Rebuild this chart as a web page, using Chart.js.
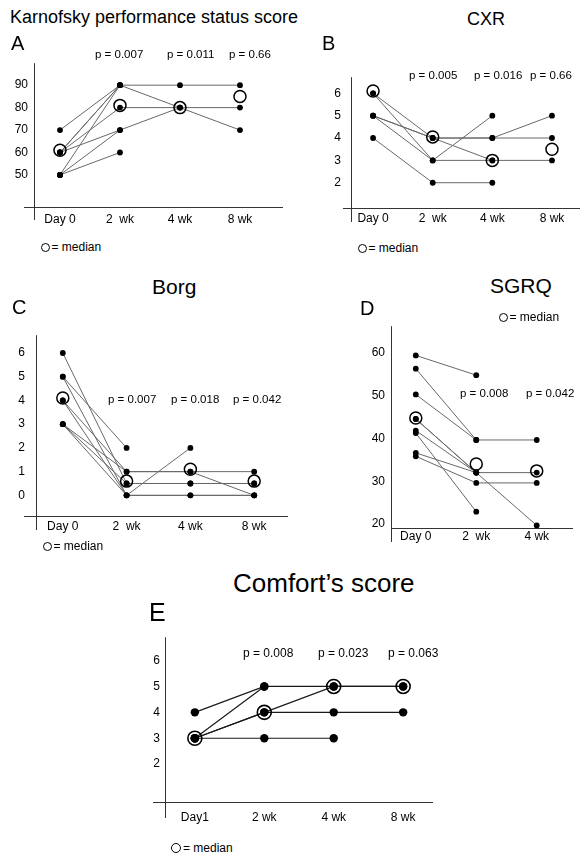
<!DOCTYPE html>
<html>
<head>
<meta charset="utf-8">
<script src="https://cdn.jsdelivr.net/npm/chart.js@4.4.0/dist/chart.umd.min.js"></script>
<style>
  body { margin: 0; background: #fff; width: 582px; height: 857px; position: relative; overflow: hidden;
         font-family: "Liberation Sans", Arial, sans-serif; color: #000; }
  .box { position: absolute; }
  .t { position: absolute; white-space: nowrap; line-height: 1; }
  .ring { position: absolute; border: 1.5px solid #000; border-radius: 50%; box-sizing: border-box; }
</style>
</head>
<body>
<script>
// categories
var weeks = ['Day 0', '2  wk', '4 wk', '8 wk'];
var weeksD = ['Day 0', '2  wk', '4 wk'];
var weeksE = ['Day1', '2 wk', '4 wk', '8 wk'];

// A - Karnofsky (one row per patient, null = not measured)
var kpsTicks = [50, 60, 70, 80, 90];
var kpsPatients = [
  [70, 90, 90, 90],
  [60, 90, 80, 70],
  [60, 80, 80, 80],
  [60, 70, 80, null],
  [60, 90, null, null],
  [50, 90, null, null],
  [50, 70, null, null],
  [50, 60, null, null]
];
var kpsMedian = [61, 81, 80, 85];
var kpsP = ['p = 0.007', 'p = 0.011', 'p = 0.66'];

// B - CXR
var cxrTicks = [2, 3, 4, 5, 6];
var cxrPatients = [
  [6, 4, 4, 4],
  [6, 3, 5, null],
  [5, 4, 3, 3],
  [5, 3, 3, null],
  [5, 4, 4, 5],
  [4, 2, 2, null]
];
var cxrMedian = [6.1, 4.05, 3.0, 3.5];
var cxrP = ['p = 0.005', 'p = 0.016', 'p = 0.66'];

// C - Borg
var borgTicks = [0, 1, 2, 3, 4, 5, 6];
var borgPatients = [
  [6, 0.5, 0.5, 0.5],
  [5, 2, null, null],
  [5, 0, 0, 0],
  [4, 1, 1, 1],
  [4, 0, 2, null],
  [3, 1, 1, 0],
  [3, 0.5, 0.5, 0.5],
  [3, 0, 0, 0]
];
var borgMedian = [4.1, 0.6, 1.1, 0.6];
var borgP = ['p = 0.007', 'p = 0.018', 'p = 0.042'];

// D - SGRQ
var sgrqTicks = [20, 30, 40, 50, 60];
var sgrqPatients = [
  [59.3, 54.7, null],
  [56.2, 39.6, 39.6],
  [50.2, 39.6, null],
  [44.5, 32, 19.7],
  [44.5, 32, 32],
  [41.8, 32, null],
  [41.2, 22.9, null],
  [36.6, 32, null],
  [35.8, 29.6, 29.6]
];
var sgrqMedian = [44.7, 34, 32.4];
var sgrqP = ['p = 0.008', 'p = 0.042'];

// E - Comfort
var comfortTicks = [2, 3, 4, 5, 6];
var comfortPatients = [
  [4, 5, 5, 5],
  [3, 5, null, null],
  [3, 4, 5, 5],
  [3, 4, 4, 4],
  [3, 3, 3, null]
];
var comfortMedian = [3, 4, 5, 5];
var comfortP = ['p = 0.008', 'p = 0.023', 'p = 0.063'];

var FONT = '"Liberation Sans", Arial, sans-serif';

// axis lines that cross each other like in the original figure
var crossAxes = {
  id: 'crossAxes',
  beforeDatasetsDraw: function (chart, args, opts) {
    var a = chart.chartArea;
    var ctx = chart.ctx;
    ctx.save();
    ctx.strokeStyle = '#333';
    ctx.lineWidth = 1;
    ctx.beginPath();
    ctx.moveTo(a.left + 0.5, a.top);
    ctx.lineTo(a.left + 0.5, a.bottom + opts.below);
    ctx.moveTo(a.left - opts.before, a.bottom + 0.5);
    ctx.lineTo(a.right, a.bottom + 0.5);
    ctx.stroke();
    ctx.restore();
  }
};

function toPoints(row) {
  return row.map(function (v, i) { return { x: i, y: v }; });
}

function drawPanel(p) {
  var yw = 40, xh = 26;
  var w = p.right - p.axisX + yw;
  var h = p.axisY - p.top + xh;
  var box = document.createElement('div');
  box.className = 'box';
  box.style.left = (p.axisX - yw) + 'px';
  box.style.top = p.top + 'px';
  var cv = document.createElement('canvas');
  cv.width = w;
  cv.height = h;
  box.appendChild(cv);
  document.body.appendChild(box);

  var lineSets = p.patients.map(function (row) {
    return { data: toPoints(row), showLine: true, borderColor: p.lineColor, borderWidth: p.lineWidth,
             pointRadius: 0, spanGaps: false, order: 2, clip: false };
  });
  var dotSets = p.patients.map(function (row) {
    return { data: toPoints(row), showLine: false, pointRadius: p.dot, pointBackgroundColor: '#000',
             pointBorderWidth: 0, order: 1, clip: false };
  });
  var medianSet = { data: toPoints(p.median), showLine: false, pointRadius: p.ring,
                    pointBackgroundColor: 'rgba(0,0,0,0)', pointBorderColor: '#000',
                    pointBorderWidth: p.ringWidth, order: 0, clip: false };

  new Chart(cv, {
    type: 'scatter',
    data: { datasets: lineSets.concat(dotSets, [medianSet]) },
    options: {
      responsive: false,
      animation: false,
      events: [],
      layout: { padding: 0, autoPadding: false },
      plugins: { legend: { display: false }, tooltip: { enabled: false },
                 crossAxes: { below: p.below, before: p.before } },
      scales: {
        x: {
          type: 'linear', min: p.xMin, max: p.xMax,
          afterBuildTicks: function (s) { s.ticks = p.labels.map(function (l, i) { return { value: i }; }); },
          afterFit: function (s) { s.height = xh; },
          ticks: { callback: function (v) { return p.labels[v]; }, color: '#000',
                   font: { family: FONT, size: 12 }, padding: p.xPad, maxRotation: 0, autoSkip: false },
          grid: { display: false, drawTicks: false },
          border: { display: false }
        },
        y: {
          type: 'linear', min: p.yMin, max: p.yMax,
          afterBuildTicks: function (s) { s.ticks = p.yTicks.map(function (v) { return { value: v }; }); },
          afterFit: function (s) { s.width = yw; },
          ticks: { color: '#000', font: { family: FONT, size: 12 }, padding: p.yPad },
          grid: { display: false, drawTicks: false },
          border: { display: false }
        }
      }
    },
    plugins: [crossAxes]
  });
}

var grey = '#686868';

drawPanel({ labels: weeks, yTicks: kpsTicks, patients: kpsPatients, median: kpsMedian,
  axisX: 34, top: 50, axisY: 207, right: 283, xMin: -0.433, xMax: 3.717, yMin: 35.7, yMax: 99.8,
  below: 13, before: 10, xPad: 5, yPad: 6, dot: 2.9, ring: 6, ringWidth: 1.5, lineColor: grey, lineWidth: 1 });

drawPanel({ labels: weeks, yTicks: cxrTicks, patients: cxrPatients, median: cxrMedian,
  axisX: 351, top: 60, axisY: 208, right: 580, xMin: -0.37, xMax: 3.47, yMin: 0.87, yMax: 6.72,
  below: 14, before: 8, xPad: 3, yPad: 10, dot: 2.9, ring: 6, ringWidth: 1.5, lineColor: grey, lineWidth: 1 });

drawPanel({ labels: weeks, yTicks: borgTicks, patients: borgPatients, median: borgMedian,
  axisX: 36, top: 317, axisY: 516, right: 288, xMin: -0.42, xMax: 3.53, yMin: -0.87, yMax: 6.75,
  below: 14, before: 12, xPad: 3, yPad: 11, dot: 2.9, ring: 6, ringWidth: 1.5, lineColor: grey, lineWidth: 1 });

drawPanel({ labels: weeksD, yTicks: sgrqTicks, patients: sgrqPatients, median: sgrqMedian,
  axisX: 391, top: 313, axisY: 528, right: 573, xMin: -0.41, xMax: 2.6, yMin: 19.1, yMax: 66.1,
  below: 14, before: 0, xPad: 1, yPad: 6, dot: 2.9, ring: 6, ringWidth: 1.5, lineColor: grey, lineWidth: 1 });

drawPanel({ labels: weeksE, yTicks: comfortTicks, patients: comfortPatients, median: comfortMedian,
  axisX: 165, top: 625, axisY: 802, right: 433, xMin: -0.43, xMax: 3.43, yMin: 0.54, yMax: 6.9,
  below: 16, before: 12, xPad: 8, yPad: 5, dot: 4.2, ring: 7, ringWidth: 1.6, lineColor: '#1a1a1a', lineWidth: 1.2 });

// titles, panel letters, p values
function text(str, x, cy, size) {
  var d = document.createElement('div');
  d.className = 't';
  d.textContent = str;
  d.style.left = x + 'px';
  d.style.top = (cy - size * 0.5) + 'px';
  d.style.fontSize = size + 'px';
  document.body.appendChild(d);
}

text('Karnofsky performance status score', 10, 17, 18);
text('A', 11, 43, 20);
text('CXR', 467, 19, 18);
text('B', 322, 43, 20);
text('Borg', 152, 286, 21);
text('C', 12, 307, 20);
text('SGRQ', 490, 285, 21);
text('D', 360, 308, 20);
text('Comfort\u2019s score', 233, 583, 26);
text('E', 149, 612, 25);

[95, 167, 229].forEach(function (x, i) { text(kpsP[i], x, 55, 11.5); });
[409, 474, 530].forEach(function (x, i) { text(cxrP[i], x, 76, 11.5); });
[108, 171, 233].forEach(function (x, i) { text(borgP[i], x, 400, 11.5); });
[460, 526].forEach(function (x, i) { text(sgrqP[i], x, 394, 11.5); });
[243, 318, 388].forEach(function (x, i) { text(comfortP[i], x, 653, 12); });

// "O = median" keys
function medianKey(cx, cy, d) {
  var r = document.createElement('div');
  r.className = 'ring';
  r.style.width = d + 'px';
  r.style.height = d + 'px';
  r.style.left = (cx - d / 2) + 'px';
  r.style.top = (cy - d / 2) + 'px';
  document.body.appendChild(r);
  text('= median', cx + d / 2 + 2, cy, 12);
}
medianKey(45, 247, 9);
medianKey(362, 248, 9);
medianKey(47, 546, 9);
medianKey(503, 317, 9);
medianKey(176, 848, 10);
</script>
</body>
</html>
